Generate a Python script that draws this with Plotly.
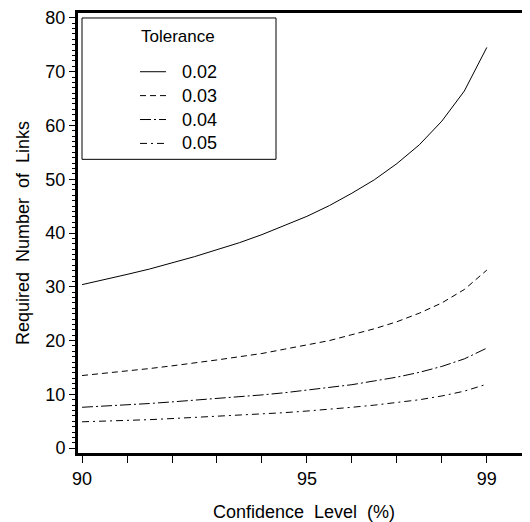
import plotly.graph_objects as go

confidence = [90, 90.5, 91, 91.5, 92, 92.5, 93, 93.5, 94, 94.5, 95,
              95.5, 96, 96.5, 97, 97.5, 98, 98.5, 99]
tol_labels = ["0.02", "0.03", "0.04", "0.05"]
links_002 = [30.4, 31.3, 32.3, 33.3, 34.4, 35.6, 36.9, 38.2, 39.7, 41.4, 43.1,
             45.1, 47.4, 49.9, 52.9, 56.4, 60.8, 66.4, 74.5]
links_003 = [13.5, 13.9, 14.4, 14.8, 15.3, 15.8, 16.4, 17.0, 17.6, 18.4, 19.2,
             20.0, 21.1, 22.2, 23.5, 25.1, 27.0, 29.5, 33.1]
links_004 = [7.6, 7.8, 8.1, 8.3, 8.6, 8.9, 9.2, 9.6, 9.9, 10.3, 10.8,
             11.3, 11.8, 12.5, 13.2, 14.1, 15.2, 16.6, 18.6]
links_005 = [4.9, 5.0, 5.2, 5.3, 5.5, 5.7, 5.9, 6.1, 6.4, 6.6, 6.9,
             7.2, 7.6, 8.0, 8.5, 9.0, 9.7, 10.6, 11.9]
x_tickvals = [90, 91, 92, 93, 94, 95, 96, 97, 98, 99]
x_ticktext = ["90", "", "", "", "", "95", "", "", "", "99"]
y_tickvals = [0, 10, 20, 30, 40, 50, 60, 70, 80]

series = [links_002, links_003, links_004, links_005]
dashes = ["solid", "6px,4px", "11px,3px,2px,3px", "7px,4px,2px,4px"]

FONT = "Liberation Sans, Arial, sans-serif"

# plot area in page pixels (page has an 8px body margin)
PL, PR, PT, PB = 78, 530, 11, 453
W, H = 530 - 8, 522 - 8


def px(x):
    return (x - PL) / (PR - PL)


def py(y):
    return (PB - y) / (PB - PT)


fig = go.Figure()
for lab, ys, d in zip(tol_labels, series, dashes):
    fig.add_trace(go.Scatter(x=confidence, y=ys, mode="lines", name=lab,
                             showlegend=False,
                             line=dict(color="black", width=1, dash=d)))

# legend drawn as box + sample lines + labels
shapes = [dict(type="rect", xref="paper", yref="paper",
               x0=px(82), x1=px(276), y0=py(158), y1=py(16),
               line=dict(color="black", width=1), fillcolor="white", layer="above")]
annotations = [dict(text="Tolerance", xref="paper", yref="paper",
                    x=px(178), y=py(35), xanchor="center", yanchor="middle",
                    showarrow=False, font=dict(size=17))]
row_y = [70, 94, 118, 142]
for lab, d, ry in zip(tol_labels, dashes, row_y):
    shapes.append(dict(type="line", xref="paper", yref="paper",
                       x0=px(140), x1=px(166), y0=py(ry), y1=py(ry),
                       line=dict(color="black", width=1, dash=d), layer="above"))
    annotations.append(dict(text=lab, xref="paper", yref="paper",
                            x=px(180), y=py(ry), xanchor="left", yanchor="middle",
                            showarrow=False, font=dict(size=18)))

fig.update_layout(
    width=W, height=H,
    margin=dict(l=PL - 8, r=0, t=PT - 8, b=H - (PB - 8)),
    plot_bgcolor="white", paper_bgcolor="white",
    font=dict(family=FONT, color="black", size=18),
    showlegend=False,
    shapes=shapes, annotations=annotations,
    xaxis=dict(
        range=[89.91, 99.96], showgrid=False, zeroline=False,
        showline=True, linecolor="black", linewidth=3, mirror=True,
        ticks="outside", ticklen=7, tickwidth=1, tickcolor="black",
        tickvals=x_tickvals, ticktext=x_ticktext,
        tickfont=dict(size=18), ticklabeloverflow="allow",
        title=dict(text="Confidence  Level  (%)", font=dict(size=18), standoff=18),
    ),
    yaxis=dict(
        range=[-0.9, 80.9], showgrid=False, zeroline=False,
        showline=True, linecolor="black", linewidth=3, mirror=False,
        ticks="outside", ticklen=6, tickwidth=1, tickcolor="black",
        tickvals=y_tickvals,
        tickfont=dict(size=18), ticklabeloverflow="allow",
        minor=dict(dtick=1, ticks="outside", ticklen=3, tickcolor="black", tickwidth=1),
        title=dict(text="Required  Number  of  Links", font=dict(size=18), standoff=12),
    ),
)
fig.write_html("out.html")
